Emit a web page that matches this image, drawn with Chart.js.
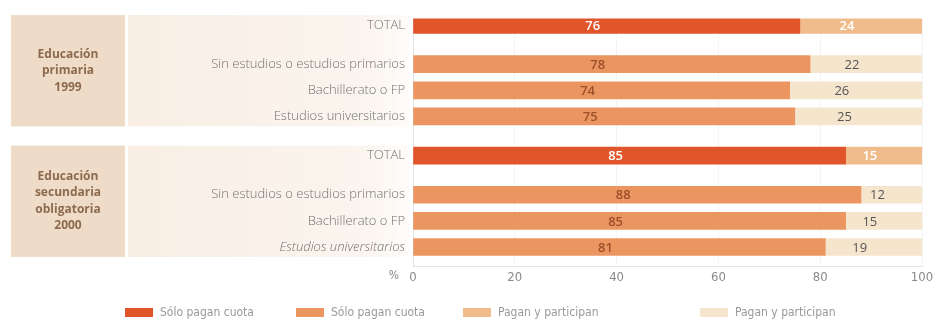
<!DOCTYPE html>
<html>
<head>
<meta charset="utf-8">
<script src="https://cdn.jsdelivr.net/npm/chart.js@4.4.1/dist/chart.umd.min.js"></script>
<style>
  html, body { margin: 0; padding: 0; background: #ffffff; }
  #wrap { width: 939px; height: 321px; position: relative; }
</style>
</head>
<body>
<div id="wrap"><canvas id="myChart"></canvas></div>
<script>
// Data
const groupTitles = [
    ['Educación', 'primaria', '1999'],
    ['Educación', 'secundaria', 'obligatoria', '2000']
];
const rowLabels = ['TOTAL', 'Sin estudios o estudios primarios', 'Bachillerato o FP', 'Estudios universitarios'];
const soloCuota1999 = [76, 78, 74, 75];
const paganParticipan1999 = [24, 22, 26, 25];
const soloCuota2000 = [85, 88, 85, 81];
const paganParticipan2000 = [15, 12, 15, 19];
const xTickLabels = ['0', '20', '40', '60', '80', '100'];
const legendLabels = ['Sólo pagan cuota', 'Sólo pagan cuota', 'Pagan y participan', 'Pagan y participan'];

const colors = ['#e1552a', '#eb9661', '#f0bc8b', '#f5e5cd'];
const valueColors = ['#ffffff', '#9c4f2a', '#ffffff', '#555555'];

// Build category slots: blank slots give the gaps between rows
const slotLabels = [];
const totalCuota = [], subCuota = [], totalPart = [], subPart = [];
const groupSlots = []; // [first, last] slot index of each group
const italicSlots = [];

function pushSlot(label, tc, sc, tp, sp) {
    slotLabels.push(label);
    totalCuota.push(tc);
    subCuota.push(sc);
    totalPart.push(tp);
    subPart.push(sp);
}

[[soloCuota1999, paganParticipan1999], [soloCuota2000, paganParticipan2000]].forEach((g, gi) => {
    if (gi > 0) { pushSlot('', null, null, null, null); pushSlot('', null, null, null, null); }
    const first = slotLabels.length;
    pushSlot(rowLabels[0], g[0][0], null, g[1][0], null);
    pushSlot('', null, null, null, null);
    for (let i = 1; i < rowLabels.length; i++) {
        pushSlot('', null, null, null, null);
        if (gi === 1 && i === rowLabels.length - 1) italicSlots.push(slotLabels.length);
        pushSlot(rowLabels[i], null, g[0][i], null, g[1][i]);
    }
    groupSlots.push([first, slotLabels.length - 1]);
});
pushSlot('', null, null, null, null);

// Left panels with the group titles
const panelPlugin = {
    id: 'panels',
    beforeDraw(chart) {
        const c = chart.ctx;
        const y = chart.scales.y;
        groupSlots.forEach((gs, gi) => {
            const top = y.getPixelForValue(gs[0]) - 10;
            const bottom = y.getPixelForValue(gs[1]) + 10;
            c.save();
            c.fillStyle = '#efdcc8';
            c.fillRect(11, top, 114, bottom - top);
            const grad = c.createLinearGradient(128, 0, 410, 0);
            grad.addColorStop(0, '#f8eee4');
            grad.addColorStop(0.85, '#fbf5ef');
            grad.addColorStop(1, '#fefcfa');
            c.fillStyle = grad;
            c.fillRect(128, top, 282, bottom - top);

            const lines = groupTitles[gi];
            const lh = 16.5;
            const mid = (top + bottom) / 2;
            c.fillStyle = '#8c6a4e';
            c.font = 'bold 12px "Open Sans", sans-serif';
            c.textAlign = 'center';
            c.textBaseline = 'middle';
            lines.forEach((t, i) => {
                c.fillText(t, 68, mid + (i - (lines.length - 1) / 2) * lh);
            });
            c.restore();
        });
    }
};

// Values inside the bars, "%" before the 0 tick, and the legend
const labelPlugin = {
    id: 'labels',
    afterDatasetsDraw(chart) {
        const c = chart.ctx;
        c.save();
        c.textAlign = 'center';
        c.textBaseline = 'middle';
        chart.data.datasets.forEach((ds, di) => {
            const meta = chart.getDatasetMeta(di);
            c.font = (di === 3 ? '13px' : '600 13px') + ' "Open Sans", sans-serif';
            meta.data.forEach((el, i) => {
                const v = ds.data[i];
                if (v === null || v === undefined) return;
                c.fillStyle = valueColors[di];
                c.fillText(v, (el.x + el.base) / 2 - 14, el.y + 1);
            });
        });
        c.restore();
    },
    afterDraw(chart) {
        const c = chart.ctx;
        const x = chart.scales.x;
        c.save();
        c.font = '12px "Liberation Sans Narrow", "DejaVu Sans Condensed", sans-serif';
        c.fillStyle = '#8a8a8a';
        c.textAlign = 'right';
        c.textBaseline = 'middle';
        c.fillText('%', x.getPixelForValue(0) - 14, 276);

        const starts = [125, 296, 463, 700];
        c.font = '12px "Liberation Sans Narrow", "DejaVu Sans Condensed", sans-serif';
        c.textAlign = 'left';
        chart.data.datasets.forEach((ds, i) => {
            c.fillStyle = ds.backgroundColor;
            c.fillRect(starts[i], 308, 28, 9);
            c.fillStyle = '#999999';
            c.fillText(ds.label, starts[i] + 35, 313);
        });
        c.restore();
    }
};

const ctx = document.getElementById('myChart').getContext('2d');

const myChart = new Chart(ctx, {
    type: 'bar',
    data: {
        labels: slotLabels,
        datasets: [
            { label: legendLabels[0], data: totalCuota, backgroundColor: colors[0] },
            { label: legendLabels[1], data: subCuota, backgroundColor: colors[1] },
            { label: legendLabels[2], data: totalPart, backgroundColor: colors[2] },
            { label: legendLabels[3], data: subPart, backgroundColor: colors[3] }
        ]
    },
    options: {
        indexAxis: 'y',
        responsive: true,
        maintainAspectRatio: false,
        animation: false,
        barThickness: 17,
        layout: { padding: { top: 18.5, right: 17, bottom: 34.4, left: 0 } },
        plugins: {
            legend: { display: false },
            tooltip: { enabled: false }
        },
        scales: {
            x: {
                stacked: true,
                min: 0,
                max: 100,
                ticks: {
                    stepSize: 20,
                    padding: 3,
                    color: '#8a8a8a',
                    font: { family: '"Liberation Sans Narrow", "DejaVu Sans Condensed", sans-serif', size: 13 },
                    callback: (v, i) => xTickLabels[i]
                },
                grid: { color: '#f4f4f4', drawTicks: false },
                border: { display: true, color: '#e4e4e4' },
                afterFit: scale => { scale.height = 20; }
            },
            y: {
                stacked: true,
                ticks: {
                    autoSkip: false,
                    padding: 8,
                    color: '#727272',
                    font: ctx => ({
                        family: '"Open Sans", sans-serif',
                        size: 13,
                        weight: 300,
                        style: italicSlots.includes(ctx.index) ? 'italic' : 'normal'
                    })
                },
                grid: { display: false, drawTicks: false },
                border: { display: true, color: '#e4e4e4' },
                afterFit: scale => { scale.width = 413; }
            }
        }
    },
    plugins: [panelPlugin, labelPlugin]
});
</script>
</body>
</html>
